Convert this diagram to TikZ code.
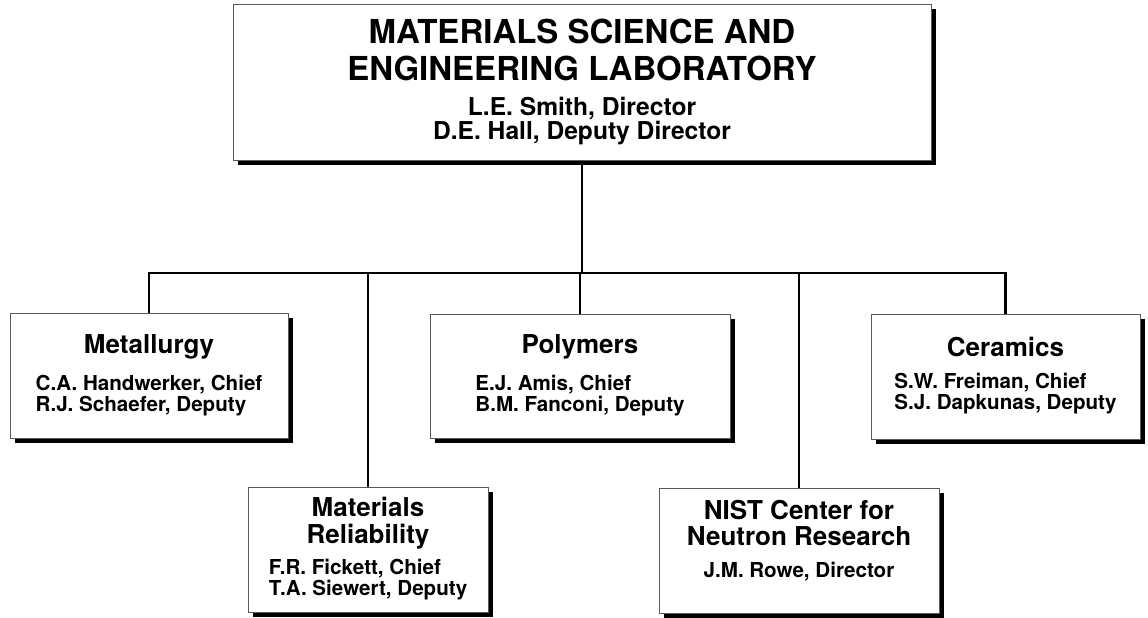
\documentclass[tikz,border=0pt]{standalone}
\usepackage{fontspec}
\setmainfont{TeX Gyre Heros}
\usepackage{tikz}
\usetikzlibrary{shadows}

\newcommand{\labfont}{\fontsize{16.5}{18}\selectfont}
\newcommand{\dirfont}{\fontsize{12.3}{12}\selectfont}
\newcommand{\divfont}{\fontsize{13}{14.5}\selectfont}
\newcommand{\chieffont}{\fontsize{10.3}{9.9}\selectfont}

\tikzset{
  unit/.style={draw=black!65,line width=0.5pt,fill=white,align=center,
    font=\bfseries,inner sep=0pt,
    drop shadow={shadow xshift=2.5pt,shadow yshift=-2.5pt,fill=black,opacity=1}},
  conn/.style={line width=1.2pt}
}

\begin{document}
\begin{tikzpicture}[x=0.5pt,y=-0.5pt]
\useasboundingbox (0,0) rectangle (1148,617);
% laboratory office
\node[unit,minimum width=349pt,minimum height=78pt](lab) at (582,82)
  {\labfont MATERIALS SCIENCE AND\\[5.5pt]\labfont ENGINEERING LABORATORY\\[5.5pt]
   \dirfont L.E. Smith, Director\\\dirfont D.E. Hall, Deputy Director};
% divisions, upper row
\node[unit,minimum width=139pt,minimum height=62.5pt](met) at (149,375.5)
  {\divfont Metallurgy\\[7pt]
   \chieffont\begin{tabular}{@{}l@{}}C.A. Handwerker, Chief\\R.J. Schaefer, Deputy\end{tabular}\\[-4pt]};
\node[unit,minimum width=150pt,minimum height=62pt](pol) at (580,376)
  {\divfont Polymers\\[7pt]
   \chieffont\begin{tabular}{@{}l@{}}E.J. Amis, Chief\\B.M. Fanconi, Deputy\end{tabular}\\[-4pt]};
\node[unit,minimum width=134.5pt,minimum height=62.5pt](cer) at (1005.5,376.5)
  {\divfont Ceramics\\[7pt]
   \chieffont\begin{tabular}{@{}l@{}}S.W. Freiman, Chief\\S.J. Dapkunas, Deputy\end{tabular}\\[-4pt]};
% divisions, lower row
\node[unit,minimum width=120pt,minimum height=62.5pt](rel) at (368,549.5)
  {\divfont Materials\\[1.5pt]\divfont Reliability\\[4pt]
   \chieffont\begin{tabular}{@{}l@{}}F.R. Fickett, Chief\\T.A. Siewert, Deputy\end{tabular}};
\node[unit,minimum width=140pt,minimum height=62.5pt](nist) at (799,550.5)
  {\divfont NIST Center for\\[1pt]\divfont Neutron Research\\[4pt]
   \chieffont J.M. Rowe, Director\\[0pt]};
% connectors
\coordinate(bar) at (582,273);
\draw[conn](lab.south)--(bar);
\draw[conn](met.north)|-(bar)-|(cer.north);
\draw[conn](pol.north)--(pol.north|-bar);
\draw[conn](rel.north)--(rel.north|-bar);
\draw[conn](nist.north)--(nist.north|-bar);
\end{tikzpicture}
\end{document}
